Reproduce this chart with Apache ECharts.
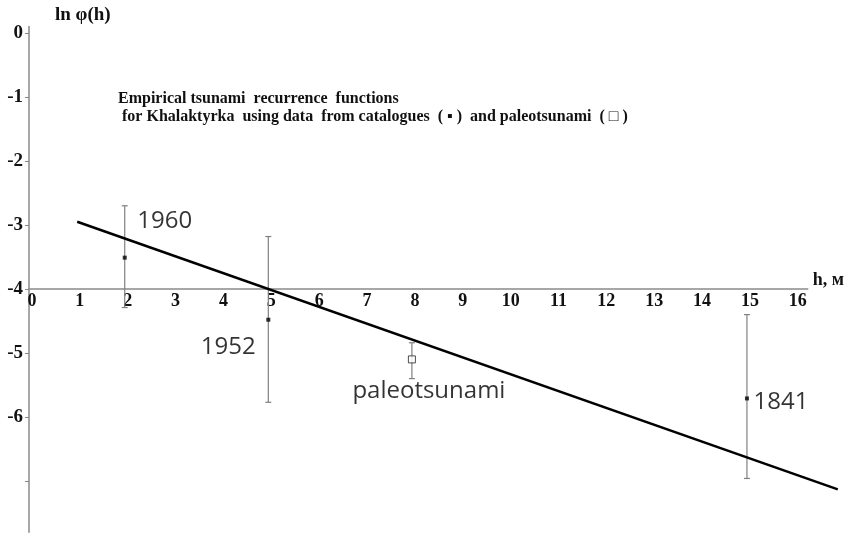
<!DOCTYPE html>
<html>
<head>
<meta charset="utf-8">
<script src="https://cdn.jsdelivr.net/npm/echarts@6/dist/echarts.min.js"></script>
<style>
  html, body { margin: 0; padding: 0; background: #fff; }
  #chart { width: 847px; height: 533px; }
</style>
</head>
<body>
<div id="chart"></div>
<script>
// observed points: h (m), ln phi(h), error bar bounds, label
const catH = [2, 5, 15];
const catLn = [-3.51, -4.48, -5.71];
const catLow = [-4.29, -5.77, -6.96];
const catHigh = [-2.70, -3.18, -4.40];
const catNames = ['1960', '1952', '1841'];

const paleoH = [8];
const paleoLn = [-5.10];
const paleoLow = [-5.40];
const paleoHigh = [-4.84];
const paleoNames = ['paleotsunami'];

// fitted recurrence line
const fitH = [1, 16.78];
const fitLn = [-2.95, -7.13];

// axis ticks
const yTicks = [0, -1, -2, -3, -4, -5, -6, -7];
const yLabels = [0, -1, -2, -3, -4, -5, -6];

const serif = '"Liberation Serif", "DejaVu Serif", serif';
const sans = '"Open Sans", "Noto Sans", sans-serif';

const chart = echarts.init(document.getElementById('chart'));

const errData = catH.map((h, i) => [h, catLow[i], catHigh[i]])
  .concat(paleoH.map((h, i) => [h, paleoLow[i], paleoHigh[i]]));

// label offsets from each point (label centred on point, then shifted)
const catLabelOffset = [[40, -36], [-40, 27], [34, 4]];

const PX_X = 48.2;   // px per metre
const PX_Y = 64;     // px per ln unit
const Y_MIN = -7.8, Y_MAX = 0.1;

const option = {
  animation: false,
  title: {
    text: 'Empirical tsunami  recurrence  functions\n for Khalaktyrka  using data  from catalogues  ( \u25aa )  and paleotsunami  ( \u25a1 )',
    left: 113,
    top: 85,
    textStyle: {
      fontFamily: serif,
      fontWeight: 'bold',
      fontSize: 16,
      lineHeight: 18,
      color: '#111'
    }
  },
  grid: [
    { left: 29, top: 33 - Y_MAX * PX_Y, width: 16.27 * PX_X, height: (Y_MAX - Y_MIN) * PX_Y },
    { left: 29, top: 33 - Y_MAX * PX_Y, width: 16.8 * PX_X, height: (Y_MAX - Y_MIN) * PX_Y }
  ],
  xAxis: [{
    type: 'value',
    gridIndex: 0,
    min: 0,
    max: 16.27,
    interval: 1,
    position: 'bottom',
    offset: -(-4 - Y_MIN) * PX_Y,
    name: 'h, м',
    nameLocation: 'end',
    nameGap: 5,
    nameTextStyle: {
      fontFamily: serif,
      fontWeight: 'bold',
      fontSize: 18,
      color: '#111',
      verticalAlign: 'bottom',
      padding: [0, 0, 0, 0]
    },
    axisLine: { onZero: false, lineStyle: { color: '#8a8a8a', width: 1.5 } },
    axisTick: { show: false },
    splitLine: { show: false },
    axisLabel: {
      margin: 3,
      fontFamily: serif,
      fontWeight: 'bold',
      fontSize: 18,
      color: '#111',
      padding: [0, 0, 0, 6],
      showMaxLabel: false,
      formatter: v => (Number.isInteger(v) ? String(v) : '')
    }
  }, {
    type: 'value',
    gridIndex: 1,
    min: 0,
    max: 16.8,
    show: false
  }],
  yAxis: [{
    type: 'value',
    gridIndex: 0,
    min: Y_MIN,
    max: Y_MAX,
    name: 'ln \u03c6(h)',
    nameLocation: 'end',
    nameGap: 2,
    nameTextStyle: {
      fontFamily: serif,
      fontWeight: 'bold',
      fontSize: 19,
      color: '#111',
      align: 'left',
      padding: [0, 0, 0, 26]
    },
    axisLine: { show: true, onZero: false, lineStyle: { color: '#8a8a8a', width: 1.5 } },
    axisTick: { show: true, length: 4, customValues: yTicks, lineStyle: { color: '#8a8a8a' } },
    splitLine: { show: false },
    axisLabel: {
      margin: 6,
      customValues: yLabels,
      fontFamily: serif,
      fontWeight: 'bold',
      fontSize: 19,
      color: '#111'
    }
  }, {
    type: 'value',
    gridIndex: 1,
    min: Y_MIN,
    max: Y_MAX,
    show: false
  }],
  series: [
    {
      type: 'line',
      xAxisIndex: 1,
      yAxisIndex: 1,
      data: fitH.map((h, i) => [h, fitLn[i]]),
      symbol: 'none',
      lineStyle: { color: '#000', width: 2.5 },
      z: 3
    },
    {
      type: 'custom',
      data: errData,
      z: 2,
      renderItem: function (params, api) {
        const x = api.value(0);
        const lo = api.coord([x, api.value(1)]);
        const hi = api.coord([x, api.value(2)]);
        const c = 3;
        const style = { stroke: '#808080', lineWidth: 1.2 };
        return {
          type: 'group',
          children: [
            { type: 'line', shape: { x1: lo[0], y1: lo[1], x2: hi[0], y2: hi[1] }, style },
            { type: 'line', shape: { x1: lo[0] - c, y1: lo[1], x2: lo[0] + c, y2: lo[1] }, style },
            { type: 'line', shape: { x1: hi[0] - c, y1: hi[1], x2: hi[0] + c, y2: hi[1] }, style }
          ]
        };
      }
    },
    {
      type: 'scatter',
      symbol: 'rect',
      symbolSize: 4,
      itemStyle: { color: '#000' },
      z: 4,
      data: catH.map((h, i) => ({
        value: [h, catLn[i]],
        name: catNames[i],
        label: { offset: catLabelOffset[i] }
      })),
      label: {
        show: true,
        position: 'inside',
        formatter: p => p.name,
        fontFamily: sans,
        fontSize: 24,
        color: '#000'
      }
    },
    {
      type: 'scatter',
      symbol: 'rect',
      symbolSize: 7,
      itemStyle: { color: '#fff', borderColor: '#222', borderWidth: 1 },
      z: 4,
      data: paleoH.map((h, i) => ({ value: [h, paleoLn[i]], name: paleoNames[i] })),
      label: {
        show: true,
        position: 'inside',
        offset: [17, 32],
        formatter: p => p.name,
        fontFamily: sans,
        fontSize: 24,
        color: '#000'
      }
    }
  ]
};

chart.setOption(option);
</script>
</body>
</html>
